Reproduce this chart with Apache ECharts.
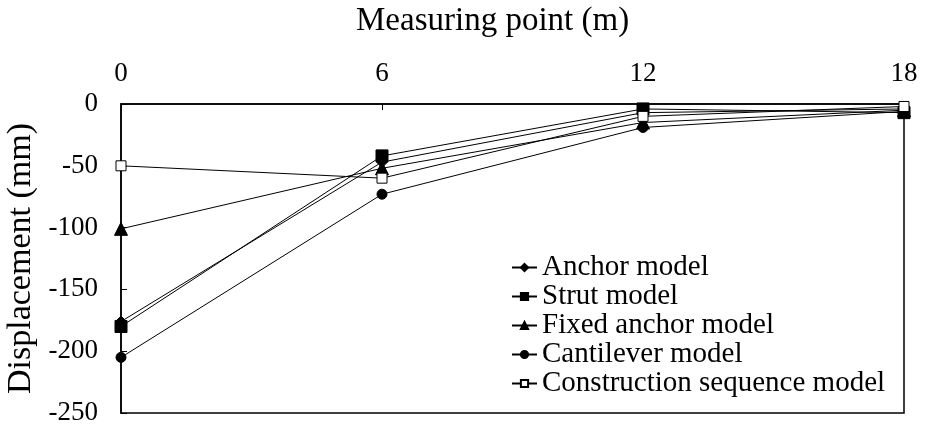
<!DOCTYPE html>
<html>
<head>
<meta charset="utf-8">
<script src="https://cdn.jsdelivr.net/npm/echarts@6/dist/echarts.min.js"></script>
<style>html,body{margin:0;padding:0;background:#fff}#c{width:925px;height:435px}</style>
</head>
<body>
<div id="c"></div>
<script>
const xValues = [0, 6, 12, 18];
const xTicks = [0, 6, 12, 18];
const yTicks = [0, -50, -100, -150, -200, -250];
const anchorModel = [-176, -47, -7, -4];
const strutModel = [-180, -42, -4, -7];
const fixedAnchorModel = [-101, -52, -15, -5];
const cantileverModel = [-205, -73, -19, -6];
const constructionSequenceModel = [-50, -60, -10, -2];
const seriesNames = ['Anchor model', 'Strut model', 'Fixed anchor model', 'Cantilever model', 'Construction sequence model'];
const xAxisTitle = 'Measuring point (m)';
const yAxisTitle = 'Displacement (mm)';

const FONT = "'Liberation Serif', 'Times New Roman', serif";
const pairs = arr => arr.map((v, i) => [xValues[i], v]);

const defs = [
  { data: anchorModel, symbol: 'diamond', size: 11, fill: '#000' },
  { data: strutModel, symbol: 'rect', size: 12, fill: '#000' },
  { data: fixedAnchorModel, symbol: 'triangle', size: 13, fill: '#000' },
  { data: cantileverModel, symbol: 'circle', size: 10, fill: '#000' },
  { data: constructionSequenceModel, symbol: 'rect', size: 10, fill: '#fff' }
];

const chart = echarts.init(document.getElementById('c'), null, { renderer: 'canvas' });
chart.setOption({
  animation: false,
  backgroundColor: '#fff',
  title: {
    text: xAxisTitle, left: 356, top: 5, padding: 0,
    textStyle: { fontFamily: FONT, fontSize: 33, fontWeight: 'normal', color: '#000' }
  },
  grid: { left: 121, right: 21, top: 104, bottom: 22, show: true, borderColor: '#000', borderWidth: 1.5,
    backgroundColor: 'transparent', containLabel: false, outerBoundsMode: 'none' },
  xAxis: {
    type: 'value', position: 'top', min: 0, max: 18, interval: 6,
    axisLine: { show: true, lineStyle: { color: '#000', width: 1.5 } },
    axisTick: { show: true, inside: true, length: 6, lineStyle: { color: '#000' } },
    axisLabel: { fontFamily: FONT, fontSize: 27, color: '#000', margin: 17,
      customValues: xTicks },
    splitLine: { show: false }
  },
  yAxis: {
    type: 'value', min: -250, max: 0, interval: 50,
    name: yAxisTitle, nameLocation: 'middle', nameGap: 76,
    nameTextStyle: { fontFamily: FONT, fontSize: 34, color: '#000' },
    axisLine: { show: true, lineStyle: { color: '#000', width: 1.5 } },
    axisTick: { show: true, inside: true, length: 6, lineStyle: { color: '#000' } },
    axisLabel: { fontFamily: FONT, fontSize: 27, color: '#000', margin: 23,
      customValues: yTicks },
    splitLine: { show: false }
  },
  legend: {
    data: seriesNames,
    orient: 'vertical', left: 511, top: 253, padding: 0,
    itemWidth: 25, itemHeight: 9, itemGap: 0,
    textStyle: { fontFamily: FONT, fontSize: 29, color: '#000', lineHeight: 29 },
    backgroundColor: 'transparent'
  },
  series: defs.map((d, i) => ({
    name: seriesNames[i],
    type: 'line',
    data: pairs(d.data),
    symbol: d.symbol,
    symbolSize: d.size,
    showAllSymbol: true,
    lineStyle: { color: '#000', width: 1 },
    itemStyle: { color: d.fill, borderColor: '#000', borderWidth: 1 },
    z: 2 + i
  }))
});
</script>
</body>
</html>
